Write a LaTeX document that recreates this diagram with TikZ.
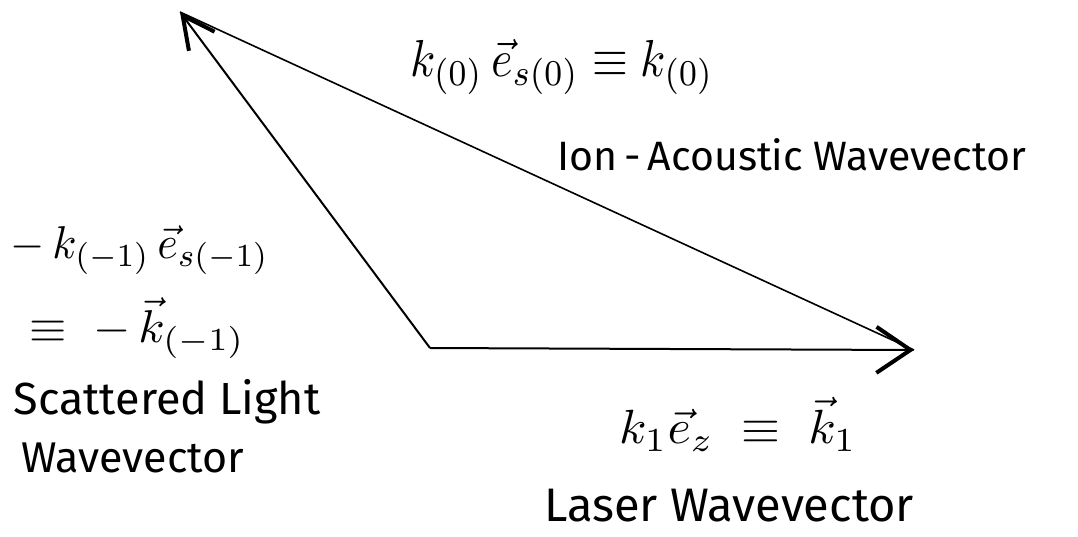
\documentclass[tikz,border=0pt]{standalone}
\usepackage{fontspec}
\setmainfont{Fira Sans}
\usetikzlibrary{arrows.meta}
\begin{document}
\begin{tikzpicture}[x=1pt,y=-1pt,
  vec/.style={line width=2pt,-{Straight Barb[length=34pt,width=46pt,line width=4pt]}},
  vecB/.style={line width=2pt,-{Straight Barb[length=32pt,width=32pt,line width=4pt]}},
  side/.style={line width=1.6pt},
  lbl/.style={inner sep=0pt, anchor=center},
  eq/.style={inner sep=0pt, anchor=center}]
\useasboundingbox (0,0) rectangle (1078,536);
\coordinate (O) at (430,348);
\coordinate (A) at (914,350);
\coordinate (B) at (180,12);
\draw[side] (B) -- (A);
\draw[vec] (O) -- (A);
\draw[vecB] (O) -- (B);
\node[eq] (t1) at (562,67) {\scalebox{4.6}[5.2]{$k_{(0)}\,\vec{e}_{s(0)} \equiv k_{(0)}$}};
\node[lbl,font=\fontsize{41}{48}\selectfont] (t2) at (792,155) {Ion\,-\,Acoustic Wavevector};
\node[eq] (t3) at (140,250) {\scalebox{4.4}[4.6]{$-\,k_{(-1)}\,\vec{e}_{s(-1)}$}};
\node[eq] (t4) at (137,328) {\scalebox{4.8}[4.6]{$\equiv\;-\,\vec{k}_{(-1)}$}};
\node[lbl,font=\fontsize{45}{52}\selectfont] (t5) at (167,402) {Scattered Light};
\node[lbl,font=\fontsize{43}{50}\selectfont] (t6) at (133,458) {Wavevector};
\node[eq] (t7) at (738,424) {\scalebox{5.0}[4.8]{$k_{1}\vec{e}_{z} \;\equiv\; \vec{k}_{1}$}};
\node[lbl,font=\fontsize{47}{54}\selectfont] (t8) at (729,506) {Laser Wavevector};
\end{tikzpicture}
\end{document}
